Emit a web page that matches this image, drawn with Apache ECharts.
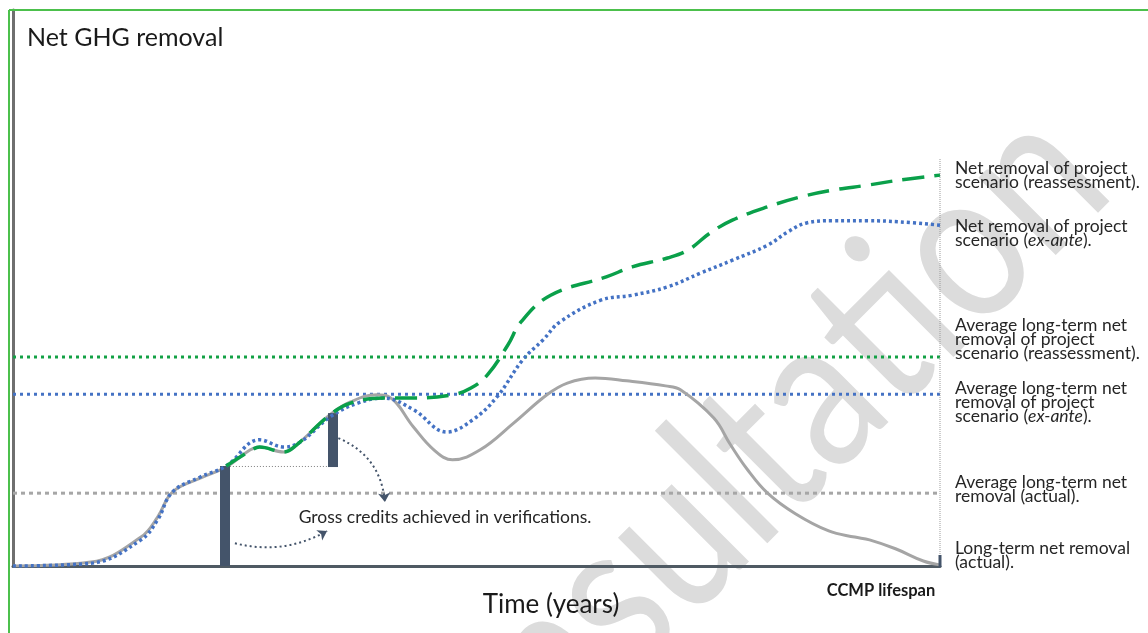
<!DOCTYPE html>
<html><head><meta charset="utf-8">
<script src="https://cdn.jsdelivr.net/npm/echarts@6/dist/echarts.min.js"></script>
<style>html,body{margin:0;padding:0;background:#fff}#c{width:1148px;height:633px}</style>
</head><body><div id="c"></div>
<script>
// ---- data (x = time in years, y = net GHG removal, arbitrary units) ----
const lifespan = 50;
const actual = [[0,0],[4.2,0.7],[6.9,5.2],[7.8,8.8],[8.6,13.3],[10.1,15.8],[11.5,17.8],[12.8,20.9],[13.3,21.4],[14.6,20.5],[15.1,21.2],[17.1,27.2],[18.2,29.5],[19.6,30.8],[20.3,30.4],[21.6,25.0],[22.7,20.9],[23.7,19.1],[25.2,20.9],[27.0,25.7],[28.8,30.8],[29.9,32.9],[31.4,33.8],[33.1,33.3],[35.2,32.4],[36.0,31.7],[37.8,26.6],[38.7,21.8],[39.6,17.4],[40.7,13.1],[42.2,9.4],[44.0,6.3],[45.4,5.2],[46.2,4.7],[47.6,3.1],[49.1,0.9],[50,0.2]];
const exAnte = [[0,0],[4.2,0.5],[6.9,4.7],[7.8,8.3],[8.6,13.3],[10.1,16.0],[11.5,18.0],[13.3,22.7],[14.6,21.4],[15.5,22.3],[17.1,26.8],[18.6,29.3],[20.0,30.2],[21.6,28.1],[23.4,24.1],[24.8,26.3],[26.1,30.4],[27.5,37.1],[28.6,40.7],[29.5,43.9],[31.7,47.8],[33.4,48.7],[35.3,50.2],[37.1,52.7],[38.8,55.0],[40.7,57.7],[41.8,60.1],[42.8,61.7],[44.2,62.1],[46.1,62.1],[47.8,61.9],[50,61.3]];
const reassessment = [[11.5,18.0],[12.8,20.7],[13.3,21.4],[14.6,20.5],[15.3,21.8],[17.1,27.2],[18.2,29.3],[20.0,30.2],[21.6,30.2],[23.7,30.8],[24.7,32.0],[25.6,34.4],[26.7,39.8],[27.4,43.9],[29.0,48.7],[32.0,52.0],[33.4,53.8],[35.3,55.4],[36.4,56.8],[37.6,59.9],[38.8,62.2],[40.7,64.6],[42.5,66.4],[44.2,67.6],[46.1,68.5],[47.8,69.4],[50,70.3]];
const avgReassessment = 37.6;
const avgExAnte = 30.9;
const avgActual = 13.1;
// verification credit bars: [x, from, to]
const credits = [[11.44,0,18.0],[17.23,17.8,27.5]];
const creditLevel = [[11.7,17.9],[17.0,17.9]];
const arrows = [[[17.55,23.0],[20.06,11.5]],[[11.97,4.1],[16.94,6.3]]];
const rightLabels = [
  {top:161, text:'Net removal of project\nscenario (reassessment).'},
  {top:219, text:'Net removal of project\nscenario ({i|ex-ante}).'},
  {top:318, text:'Average long-term net\nremoval of project\nscenario (reassessment).'},
  {top:381, text:'Average long-term net\nremoval of project\nscenario ({i|ex-ante}).'},
  {top:475, text:'Average long-term net\nremoval (actual).'},
  {top:541, text:'Long-term net removal\n(actual).'}
];

const FONT = 'Lato, "Noto Sans", sans-serif';
const chart = echarts.init(document.getElementById('c'));
const hline = (v, color, dash) => ({
  type:'line', data:[[0,v],[lifespan,v]], symbol:'none', silent:true,
  lineStyle:{color, width:3, type:dash}, z:3
});
const option = {
  animation:false,
  backgroundColor:'#fff',
  grid:{left:13, right:208, top:10, bottom:67},
  xAxis:{type:'value', min:0, max:lifespan, axisLine:{show:true, onZero:false, lineStyle:{color:'#4f5a63', width:3}},
         axisTick:{show:false}, axisLabel:{show:false}, splitLine:{show:false}},
  yAxis:{type:'value', min:0, max:100, axisLine:{show:true, lineStyle:{color:'#6f6f6f', width:3}},
         axisTick:{show:false}, axisLabel:{show:false}, splitLine:{show:false}},
  series:[
    hline(avgReassessment, '#13a145', [3,4]),
    hline(avgExAnte, '#4472c4', [3,4]),
    hline(avgActual, '#a6a6a6', [4,4]),
    {type:'line', data:[[lifespan,0],[lifespan,73.4]], symbol:'none', silent:true,
     lineStyle:{color:'#9a9a9a', width:1, type:[1,1]}, z:3},
    {type:'line', data:actual, smooth:0.4, symbol:'none', lineStyle:{color:'#a5a5a5', width:3}, z:4},
    {type:'lines', coordinateSystem:'cartesian2d', polyline:false, silent:true, z:5,
     lineStyle:{color:'#44546a', width:10, opacity:1, type:'solid'},
     data:credits.map(c => ({coords:[[c[0],c[1]],[c[0],c[2]]]}))},
    {type:'line', data:creditLevel, symbol:'none', lineStyle:{color:'#7f7f7f', width:1, type:[1,2]}, z:5},
    {type:'line', data:exAnte, smooth:0.4, symbol:'none', lineStyle:{color:'#4472c4', width:3.5, type:[3,3]}, z:6},
    {type:'line', data:reassessment, smooth:0.4, symbol:'none', lineStyle:{color:'#0aa04a', width:3.5, type:[22,10]}, z:7},
    {type:'lines', coordinateSystem:'cartesian2d', silent:true, z:8,
     symbol:['none','arrow'], symbolSize:9,
     lineStyle:{color:'#44546a', width:2, type:[2,3], opacity:1},
     data:[{coords:arrows[0], lineStyle:{curveness:0.3}},{coords:arrows[1], lineStyle:{curveness:-0.2}}]}
  ],
  graphic:[
    {type:'text', x:712, y:500, rotation:0.785, scaleY:1.2, z:-1, silent:true,
     style:{text:'Consultation', font:'180px '+FONT, fill:'#dcdcdc', textAlign:'center', textVerticalAlign:'middle'}},
    {type:'line', shape:{x1:9,y1:10,x2:1148,y2:10}, style:{stroke:'#4cc04c', lineWidth:2}, z:10},
    {type:'line', shape:{x1:9,y1:10,x2:9,y2:633}, style:{stroke:'#4cc04c', lineWidth:2}, z:10},
    {type:'line', shape:{x1:940,y1:555,x2:940,y2:567}, style:{stroke:'#44546a', lineWidth:3}, z:10},
    {type:'text', x:27, y:25, style:{text:'Net GHG removal', font:'25px '+FONT, fill:'#1a1a1a', textAlign:'left', textVerticalAlign:'top'}},
    {type:'text', x:551, y:605, style:{text:'Time (years)', font:'26px '+FONT, fill:'#1a1a1a', textAlign:'center', textVerticalAlign:'middle'}},
    {type:'text', x:881, y:591, style:{text:'CCMP lifespan', font:'bold 16.5px '+FONT, fill:'#1a1a1a', textAlign:'center', textVerticalAlign:'middle'}},
    {type:'text', x:445, y:517, style:{text:'Gross credits achieved in verifications.', font:'17.5px '+FONT, fill:'#262626', textAlign:'center', textVerticalAlign:'middle'}},
    ...rightLabels.map(l => ({type:'text', x:955, y:l.top,
      style:{text:l.text, font:'17.5px '+FONT, fill:'#262626', lineHeight:14, textAlign:'left', textVerticalAlign:'top',
             rich:{i:{fontStyle:'italic', fontSize:17.5, fontFamily:FONT, lineHeight:14, fill:'#262626'}}}}))
  ]
};
chart.setOption(option);
</script>
</body></html>
